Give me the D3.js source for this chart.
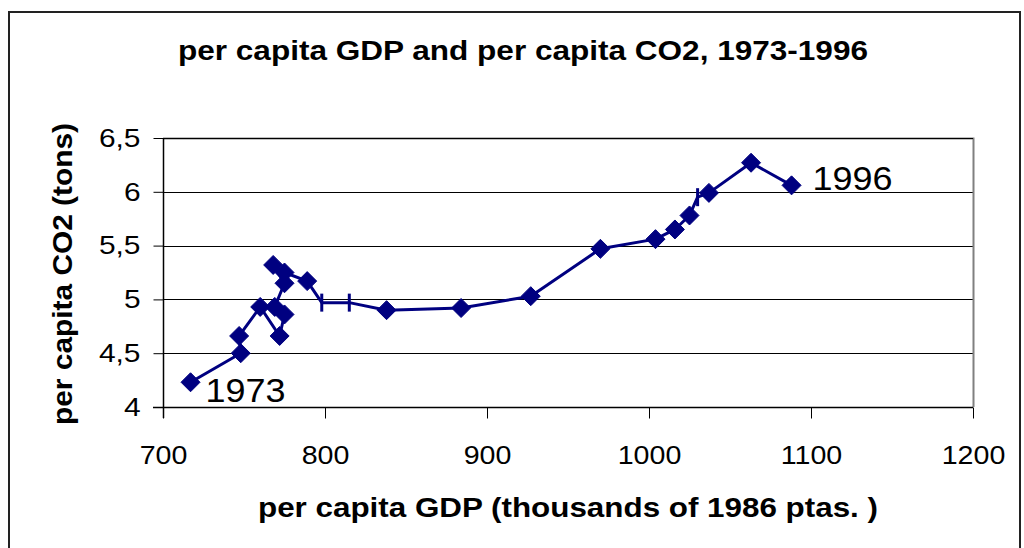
<!DOCTYPE html>
<html><head><meta charset="utf-8">
<script src="https://cdn.jsdelivr.net/npm/d3@7"></script>
<style>body{margin:0;background:#fff}svg{display:block}text{font-family:"Liberation Sans",Arial,sans-serif}</style>
</head><body>
<script>
const years = [1973,1974,1975,1976,1977,1978,1979,1980,1981,1982,1983,1984,1985,1986,1987,1988,1989,1990,1991,1992,1993,1994,1995,1996];
const gdp = [717,748,747,760,772,775,769,775,768,775,789,798,815,838,884,927,970,1004,1016,1025,1030,1037,1063,1088];
const co2 = [4.23,4.50,4.66,4.93,4.66,4.86,4.93,5.15,5.32,5.25,5.17,4.97,4.97,4.90,4.92,5.03,5.47,5.56,5.65,5.78,5.95,5.99,6.27,6.06];
const markerType = ["d","d","d","d","d","d","d","d","d","d","d","bar","bar","d","d","d","d","d","d","d","bar","d","d","d"];
const xTicks = [700,800,900,1000,1100,1200];
const yTicks = [4,4.5,5,5.5,6,6.5];
const yTickLabels = ["4","4,5","5","5,5","6","6,5"];
const title = "per capita GDP and per capita CO2, 1973-1996";
const xTitle = "per capita GDP (thousands of 1986 ptas. )";
const yTitle = "per capita CO2 (tons)";
const endLabels = [{i:0,text:"1973"},{i:23,text:"1996"}];

const W=1024,H=548;
const svg=d3.select("body").append("svg").attr("width",W).attr("height",H);
svg.append("rect").attr("x",9).attr("y",12).attr("width",1011).attr("height",560)
  .attr("fill","none").attr("stroke","#222").attr("stroke-width",2);

const L=163,R=973,T=138,B=407;
const x=d3.scaleLinear().domain([700,1200]).range([L,R]);
const y=d3.scaleLinear().domain([4,6.5]).range([B,T]);

svg.append("g").selectAll("line").data(yTicks.slice(1,5)).join("line")
  .attr("x1",L).attr("x2",R).attr("y1",d=>Math.round(y(d))+0.5).attr("y2",d=>Math.round(y(d))+0.5)
  .attr("stroke","#000").attr("stroke-width",1);
svg.append("path").attr("d",`M${L},${T+0.5}H${R+0.5}V${B}`).attr("fill","none").attr("stroke","#808080").attr("stroke-width",2);
svg.append("line").attr("x1",L).attr("x2",R).attr("y1",T+0.5).attr("y2",T+0.5).attr("stroke","#000").attr("stroke-width",1);

function stretch(sel,f){sel.each(function(){const w=this.getComputedTextLength();d3.select(this).attr("textLength",w*f).attr("lengthAdjust","spacingAndGlyphs");});}

const xAxis=d3.axisBottom(x).tickValues(xTicks).tickSize(11).tickFormat(d=>d);
const gx=svg.append("g").attr("transform",`translate(0,${B+0.5})`).call(xAxis);
gx.select(".domain").attr("stroke","#000").attr("stroke-width",1.5).attr("d",`M${L-10},0H${R}`);
gx.selectAll(".tick line").attr("stroke","#000");
gx.selectAll(".tick text").attr("font-size",26).attr("fill","#000").attr("y",38).attr("font-family","Liberation Sans, Arial").call(stretch,1.1);

const yAxis=d3.axisLeft(y).tickValues(yTicks).tickSize(10).tickFormat((d,i)=>yTickLabels[i]);
const gy=svg.append("g").attr("transform",`translate(${L+0.5},0)`).call(yAxis);
gy.select(".domain").attr("stroke","#000").attr("stroke-width",1.5).attr("d",`M0,${T}V${B+11}`);
gy.selectAll(".tick line").attr("stroke","#000");
gy.selectAll(".tick text").attr("font-size",26).attr("fill","#000").attr("x",-23).attr("font-family","Liberation Sans, Arial").call(stretch,1.15);

const navy="#000080";
svg.append("path").datum(d3.range(gdp.length))
  .attr("d",d3.line().x(i=>x(gdp[i])).y(i=>y(co2[i])))
  .attr("fill","none").attr("stroke",navy).attr("stroke-width",3).attr("stroke-linejoin","round");
const r=9.5;
svg.append("g").selectAll("path").data(d3.range(gdp.length)).join("path")
  .attr("d",i=>{const cx=x(gdp[i]),cy=y(co2[i]);
    return markerType[i]==="d"?`M${cx},${cy-r}L${cx+r},${cy}L${cx},${cy+r}L${cx-r},${cy}Z`:`M${cx},${cy-9}V${cy+9}`;})
  .attr("fill",navy).attr("stroke",navy).attr("stroke-width",i=>markerType[i]==="d"?1:3);

svg.append("text").attr("x",x(gdp[0])+15).attr("y",y(co2[0])+20).attr("font-size",34)
  .attr("textLength",80).attr("lengthAdjust","spacingAndGlyphs").text(endLabels[0].text);
svg.append("text").attr("x",x(gdp[23])+21).attr("y",y(co2[23])+5).attr("font-size",34)
  .attr("textLength",80).attr("lengthAdjust","spacingAndGlyphs").text(endLabels[1].text);

svg.append("text").attr("x",523).attr("y",60).attr("text-anchor","middle").attr("font-size",27).attr("font-weight","bold")
  .attr("textLength",690).attr("lengthAdjust","spacingAndGlyphs").text(title);
svg.append("text").attr("x",568).attr("y",517).attr("text-anchor","middle").attr("font-size",27).attr("font-weight","bold")
  .attr("textLength",620).attr("lengthAdjust","spacingAndGlyphs").text(xTitle);
svg.append("text").attr("transform","translate(72,274) rotate(-90)").attr("text-anchor","middle").attr("font-size",27).attr("font-weight","bold")
  .attr("textLength",302).attr("lengthAdjust","spacingAndGlyphs").text(yTitle);
</script>
</body></html>
